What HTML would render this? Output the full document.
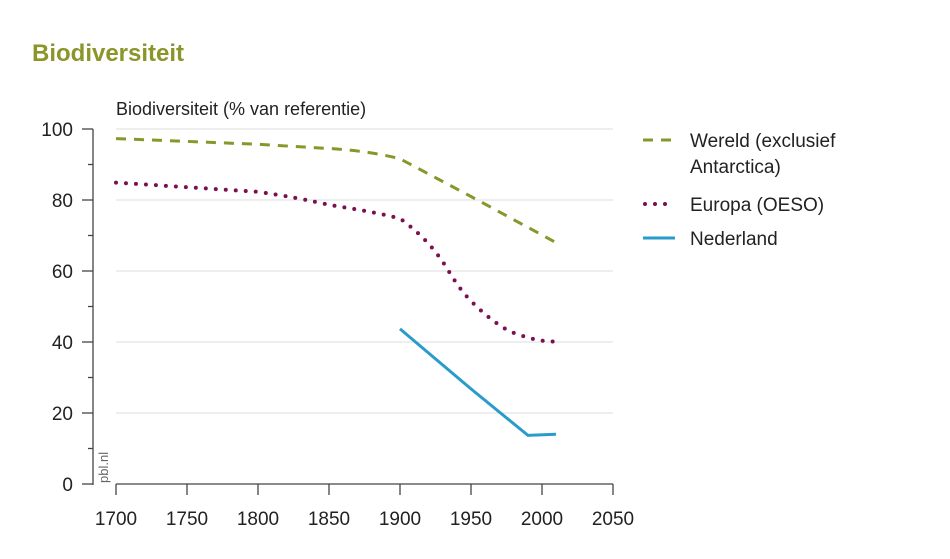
<!DOCTYPE html>
<html><head><meta charset="utf-8"><style>
body{margin:0;background:#fff;}
svg{display:block;font-family:"Liberation Sans",sans-serif;}
</style></head><body>
<svg width="950" height="559" viewBox="0 0 950 559" xmlns="http://www.w3.org/2000/svg">
<text x="32" y="61" font-size="24" font-weight="bold" fill="#8a962a">Biodiversiteit</text>
<text x="116" y="115" font-size="18" fill="#222">Biodiversiteit (% van referentie)</text>
<g stroke="#dcdcdc" stroke-width="1">
<line x1="116" y1="129" x2="613" y2="129"/>
<line x1="116" y1="200" x2="613" y2="200"/>
<line x1="116" y1="271" x2="613" y2="271"/>
<line x1="116" y1="342" x2="613" y2="342"/>
<line x1="116" y1="413" x2="613" y2="413"/>
</g>
<g stroke="#444" stroke-width="1.3" fill="none">
<line x1="93" y1="129" x2="93" y2="485"/>
<line x1="82" y1="129" x2="93" y2="129"/>
<line x1="82" y1="200" x2="93" y2="200"/>
<line x1="82" y1="271" x2="93" y2="271"/>
<line x1="82" y1="342" x2="93" y2="342"/>
<line x1="82" y1="413" x2="93" y2="413"/>
<line x1="82" y1="484" x2="93" y2="484"/>
<line x1="88" y1="164.5" x2="93" y2="164.5"/>
<line x1="88" y1="235.5" x2="93" y2="235.5"/>
<line x1="88" y1="306.5" x2="93" y2="306.5"/>
<line x1="88" y1="377.5" x2="93" y2="377.5"/>
<line x1="88" y1="448.5" x2="93" y2="448.5"/>
<line x1="116" y1="484" x2="613" y2="484"/>
<line x1="116" y1="484" x2="116" y2="495"/>
<line x1="187" y1="484" x2="187" y2="495"/>
<line x1="258" y1="484" x2="258" y2="495"/>
<line x1="329" y1="484" x2="329" y2="495"/>
<line x1="400" y1="484" x2="400" y2="495"/>
<line x1="471" y1="484" x2="471" y2="495"/>
<line x1="542" y1="484" x2="542" y2="495"/>
<line x1="613" y1="484" x2="613" y2="495"/>
</g>
<g font-size="19" fill="#222" text-anchor="end">
<text x="73" y="136">100</text>
<text x="73" y="207">80</text>
<text x="73" y="278">60</text>
<text x="73" y="349">40</text>
<text x="73" y="420">20</text>
<text x="73" y="491">0</text>
</g>
<g font-size="19" fill="#222" text-anchor="middle">
<text x="116" y="525">1700</text>
<text x="187" y="525">1750</text>
<text x="258" y="525">1800</text>
<text x="329" y="525">1850</text>
<text x="400" y="525">1900</text>
<text x="471" y="525">1950</text>
<text x="542" y="525">2000</text>
<text x="613" y="525">2050</text>
</g>
<text transform="translate(108,483) rotate(-90)" font-size="13" fill="#666">pbl.nl</text>
<path d="M116,138.6 L187,141.4 L258,144.3 L329,148.5 Q370,151 400,158.8 L471,196.5 L556,242.6" fill="none" stroke="#8a962a" stroke-width="3" stroke-dasharray="10,8"/>
<path d="M116,182.6 L187,187.2 L258,191.8 Q300,198 329,204.9 Q375,212 400,218.5 Q430,240 448,270 Q460,290 471,301 Q500,330 520,335 Q540,342 556,341.5" fill="none" stroke="#7a1050" stroke-width="4" stroke-linecap="round" stroke-dasharray="0,10"/>
<path d="M400,328.9 L471,388.9 L528,435.4 L556,434.3" fill="none" stroke="#2a9ccb" stroke-width="3"/>
<line x1="643" y1="140" x2="675" y2="140" stroke="#8a962a" stroke-width="3" stroke-dasharray="10,8"/>
<line x1="645" y1="204" x2="675" y2="204" stroke="#7a1050" stroke-width="4" stroke-linecap="round" stroke-dasharray="0,10"/>
<line x1="643" y1="238" x2="675" y2="238" stroke="#2a9ccb" stroke-width="3"/>
<g font-size="19" fill="#222">
<text x="690" y="147">Wereld (exclusief</text>
<text x="690" y="173">Antarctica)</text>
<text x="690" y="211">Europa (OESO)</text>
<text x="690" y="245">Nederland</text>
</g>
</svg>
</body></html>
